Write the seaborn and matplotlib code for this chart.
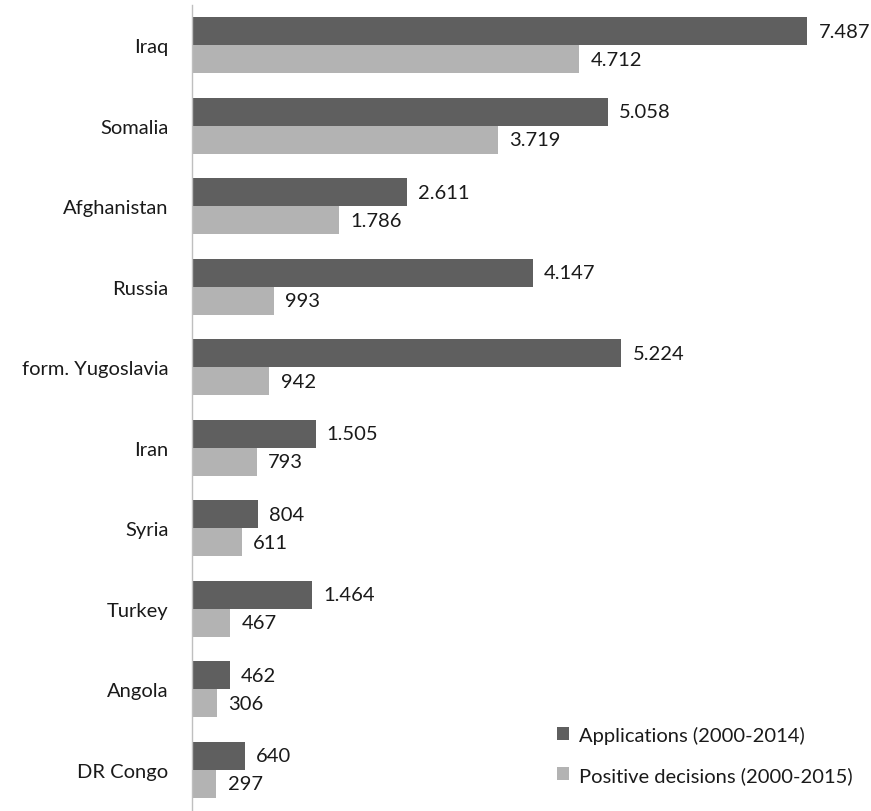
import matplotlib
matplotlib.use("Agg")
import matplotlib.pyplot as plt
import seaborn as sns
import pandas as pd
from matplotlib.patches import Patch

countries = ["Iraq", "Somalia", "Afghanistan", "Russia", "form. Yugoslavia",
             "Iran", "Syria", "Turkey", "Angola", "DR Congo"]
applications = [7487, 5058, 2611, 4147, 5224, 1505, 804, 1464, 462, 640]
positive = [4712, 3719, 1786, 993, 942, 793, 611, 467, 306, 297]
series_names = ["Applications (2000-2014)", "Positive decisions (2000-2015)"]
colors = ["#5f5f5f", "#b3b3b3"]

df = pd.DataFrame({
    "country": countries * 2,
    "value": applications + positive,
    "series": [series_names[0]] * len(countries) + [series_names[1]] * len(countries),
})

sns.set_style("white")
plt.rcParams["font.family"] = ["Lato", "DejaVu Sans"]

fig = plt.figure(figsize=(8.71, 8.12), dpi=100)
ax = fig.add_axes([192 / 871, 1 - 811 / 812, (871 - 192) / 871, 805 / 812])

sns.barplot(data=df, y="country", x="value", hue="series", orient="h",
            palette=colors, width=0.7, ax=ax, legend=False, saturation=1,
            edgecolor="none")

ax.set_xlim(0, 679 / 0.08218)
ax.set_ylim(len(countries) - 0.5, -0.5)
ax.set_xlabel("")
ax.set_ylabel("")
ax.set_xticks([])
for s in ["top", "right", "bottom"]:
    ax.spines[s].set_visible(False)
ax.spines["left"].set_color("#bfbfbf")
ax.spines["left"].set_linewidth(1.0)
ax.tick_params(axis="y", length=0, pad=17, labelsize=14.5, labelcolor="#1a1a1a")

def fmt(v):
    return f"{v:,}".replace(",", ".")

for cont in ax.containers:
    labels = [fmt(int(round(b.get_width()))) for b in cont]
    ax.bar_label(cont, labels=labels, padding=8, fontsize=14.5, color="#1a1a1a")

handles = [Patch(facecolor=c, edgecolor="none") for c in colors]
ax.legend(handles, series_names, loc="lower right", bbox_to_anchor=(1.0, 0.01),
          frameon=False, fontsize=14.5, handlelength=0.6, handleheight=0.6,
          handletextpad=0.5, labelspacing=1.1, labelcolor="#1a1a1a")

fig.savefig("out.png", dpi=100)
